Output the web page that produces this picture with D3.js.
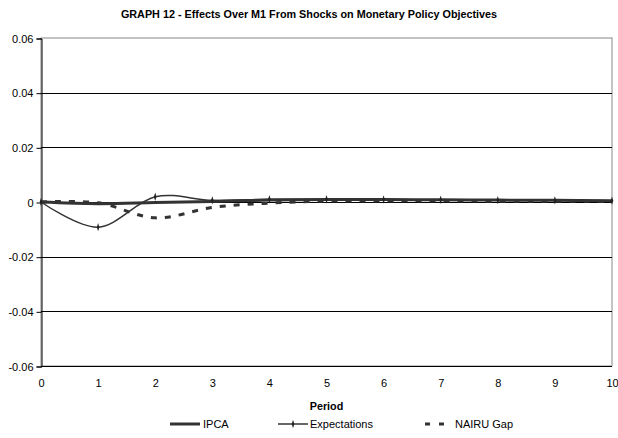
<!DOCTYPE html>
<html>
<head>
<meta charset="utf-8">
<script src="https://cdn.jsdelivr.net/npm/d3@7"></script>
<style>
  body { margin: 0; background: #fff; }
  text { font-family: "Liberation Sans", Arial, sans-serif; fill: #000; }
</style>
</head>
<body>
<div id="chart"></div>
<script>
// data
var periods = [0, 1, 2, 3, 4, 5, 6, 7, 8, 9, 10];
var ipca = [0, -0.0006, -0.0002, 0.0002, 0.0007, 0.0009, 0.0009, 0.0008, 0.0007, 0.0006, 0.0005];
var expectations = [0, -0.0092, 0.0019, 0.0006, 0.001, 0.001, 0.0009, 0.0008, 0.0007, 0.0006, 0.0005];
var nairuGap = [0, -0.0003, -0.0058, -0.002, -0.0004, 0.0003, 0.0004, 0.0004, 0.0003, 0.0003, 0.0002];
var yTicks = [0.06, 0.04, 0.02, 0, -0.02, -0.04, -0.06];

var width = 618, height = 438;
var margin = {top: 38, right: 6, bottom: 72, left: 41};

var svg = d3.select("#chart")
    .append("svg")
    .attr("width", width)
    .attr("height", height);

var x = d3.scaleLinear().domain([0, 10]).range([margin.left, width - margin.right]);
var y = d3.scaleLinear().domain([-0.06, 0.06]).range([height - margin.bottom, margin.top]);

// title
svg.append("text")
    .attr("x", 309).attr("y", 18)
    .attr("text-anchor", "middle")
    .style("font-size", "10.8px").style("font-weight", "bold")
    .text("GRAPH 12 - Effects Over M1 From Shocks on Monetary Policy Objectives");

// plot border (grey)
svg.append("rect")
    .attr("x", x(0)).attr("y", y(0.06))
    .attr("width", x(10) - x(0)).attr("height", y(-0.06) - y(0.06))
    .attr("fill", "none").attr("stroke", "#888").attr("stroke-width", 1);

// gridlines
svg.append("g").selectAll("line")
    .data(yTicks.filter(d => d !== 0.06))
    .enter().append("line")
    .attr("x1", x(0)).attr("x2", x(10))
    .attr("y1", d => Math.round(y(d)) + 0.5).attr("y2", d => Math.round(y(d)) + 0.5)
    .attr("stroke", "#000").attr("stroke-width", 1);

// y axis (plain hyphen for negatives, like the original)
var yAxis = svg.append("g")
    .attr("transform", "translate(" + (x(0) + 0.5) + ",0.5)")
    .call(d3.axisLeft(y).tickValues(yTicks).tickSize(5).tickPadding(3)
        .tickFormat(d => d === 0 ? "0" : d3.format(".2f")(d).replace("\u2212", "-")));
yAxis.select(".domain").attr("stroke", "#000");
yAxis.selectAll("text").style("font-size", "11px").style("font-family", "Liberation Sans, Arial, sans-serif");

// x axis labels
var xAxis = svg.append("g")
    .attr("transform", "translate(0," + (y(-0.06) + 0.5) + ")")
    .call(d3.axisBottom(x).tickValues(periods).tickSize(0).tickPadding(13).tickFormat(d3.format("d")));
xAxis.select(".domain").remove();
xAxis.selectAll("text").style("font-size", "11px").style("font-family", "Liberation Sans, Arial, sans-serif");

svg.append("text")
    .attr("x", x(5)).attr("y", 410)
    .attr("text-anchor", "middle")
    .style("font-size", "10.8px").style("font-weight", "bold")
    .text("Period");

var curve = d3.curveCardinal.tension(0);
var line = d3.line()
    .x((d, i) => x(periods[i]))
    .y(d => y(d))
    .curve(curve);

// NAIRU Gap
svg.append("path")
    .datum(nairuGap)
    .attr("d", line)
    .attr("fill", "none").attr("stroke", "#333")
    .attr("stroke-width", 3).attr("stroke-dasharray", "6,8");

// IPCA
svg.append("path")
    .datum(ipca)
    .attr("d", line)
    .attr("fill", "none").attr("stroke", "#333").attr("stroke-width", 3);

// Expectations
svg.append("path")
    .datum(expectations)
    .attr("d", line)
    .attr("fill", "none").attr("stroke", "#333").attr("stroke-width", 1.5);

var diamond = d3.symbol().type(d3.symbolDiamond).size(12);
svg.append("g").selectAll("path")
    .data(expectations)
    .enter().append("path")
    .attr("d", diamond)
    .attr("transform", (d, i) => "translate(" + x(periods[i]) + "," + y(d) + ") scale(0.7,1.3)")
    .attr("fill", "#222");

// legend
var legend = svg.append("g").attr("transform", "translate(0,424)");
legend.append("line").attr("x1", 170).attr("x2", 200).attr("y1", 0).attr("y2", 0)
    .attr("stroke", "#333").attr("stroke-width", 3);
legend.append("text").attr("x", 203).attr("y", 4).style("font-size", "11px").text("IPCA");

legend.append("line").attr("x1", 278).attr("x2", 308).attr("y1", 0).attr("y2", 0)
    .attr("stroke", "#333").attr("stroke-width", 1.5);
legend.append("path").attr("d", diamond)
    .attr("transform", "translate(293,0) scale(0.7,1.3)").attr("fill", "#222");
legend.append("text").attr("x", 310).attr("y", 4).style("font-size", "11px").text("Expectations");

legend.append("line").attr("x1", 425).attr("x2", 447).attr("y1", 0).attr("y2", 0)
    .attr("stroke", "#333").attr("stroke-width", 3).attr("stroke-dasharray", "5,9");
legend.append("text").attr("x", 455).attr("y", 4).style("font-size", "11px").text("NAIRU Gap");
</script>
</body>
</html>
